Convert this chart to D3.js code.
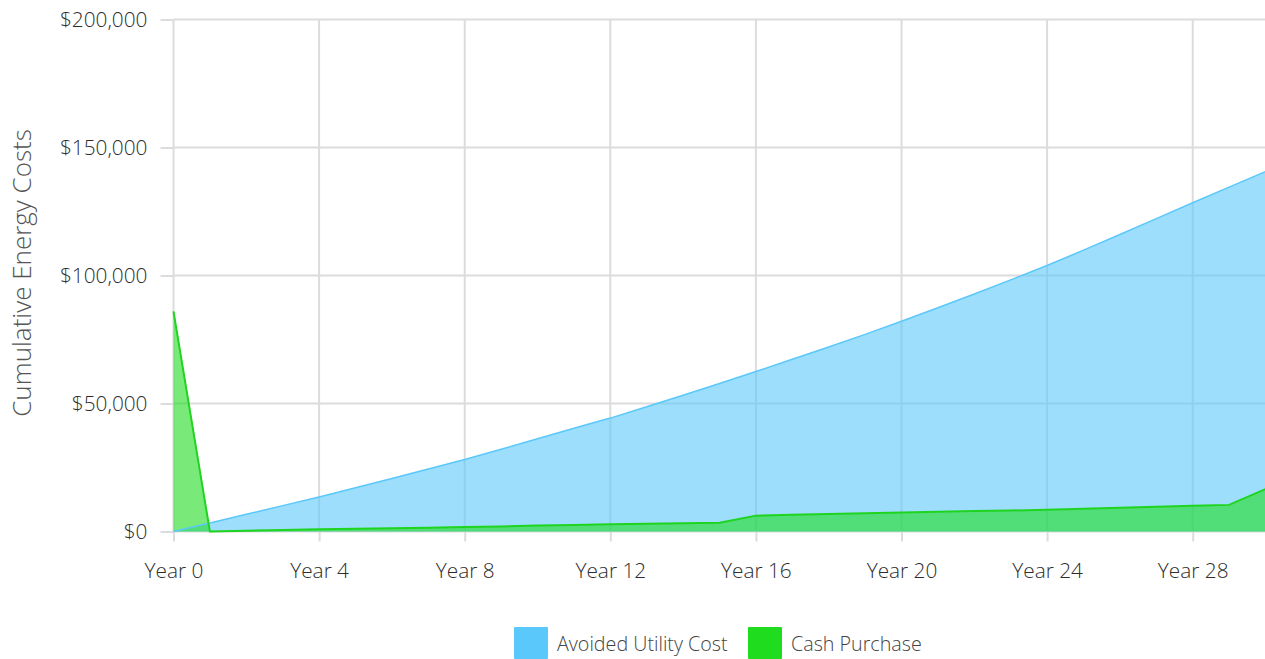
<!DOCTYPE html>
<html>
<head>
<meta charset="utf-8">
<script src="https://cdn.jsdelivr.net/npm/d3@7"></script>
<style>
    body { margin: 0; background: #fff; }
    svg { display: block; font-family: "Open Sans", sans-serif; font-weight: 300; }
    .axis path { display: none; }
    .axis line { stroke: #dcdcdc; stroke-width: 2; }
    .axis text { fill: #2d2d2d; font-size: 20.8px; font-family: "Open Sans", sans-serif; font-weight: 300; }
</style>
</head>
<body>
<div class="vis-area"></div>
<script>
// Data (values in dollars)
const years = d3.range(0, 31);
const avoidedUtility = [0, 3300, 6700, 10100, 13500, 17100, 20700, 24400, 28100, 32100,
    36200, 40300, 44300, 48700, 53200, 57800, 62500, 67300, 72100, 77000,
    82100, 87400, 92800, 98300, 103900, 109900, 116000, 122200, 128400, 134500, 140600];
const cashPurchase = [86000, 0, 300, 600, 900, 1100, 1300, 1500, 1800, 2000,
    2300, 2500, 2800, 3000, 3200, 3400, 6200, 6500, 6800, 7100,
    7400, 7700, 8000, 8200, 8500, 8900, 9300, 9700, 10100, 10400, 16600];
const xTicks = [0, 4, 8, 12, 16, 20, 24, 28];
const yTicks = [0, 50000, 100000, 150000, 200000];
const seriesNames = ["Avoided Utility Cost", "Cash Purchase"];
const seriesColors = ["#5ac8fa", "#1fdc1f"];

const W = 1265, H = 659;
const margin = { top: 19.5, right: 0, bottom: 127.5, left: 173.5 };
const width = W - margin.left - margin.right + 0.5;
const height = H - margin.top - margin.bottom;

const svg = d3.select('.vis-area').append('svg')
    .attr('width', W)
    .attr('height', H);
const g = svg.append('g')
    .attr('transform', 'translate(' + margin.left + ',' + margin.top + ')');

const x = d3.scaleLinear().domain([0, 30]).range([0, width]);
const y = d3.scaleLinear().domain([0, 200000]).range([height, 0]);

// Grid
g.selectAll('.hgrid').data(yTicks).enter().append('line')
    .attr('x1', 0).attr('x2', width)
    .attr('y1', d => y(d)).attr('y2', d => y(d))
    .attr('stroke', '#dcdcdc').attr('stroke-width', 2);
g.selectAll('.vgrid').data(xTicks).enter().append('line')
    .attr('x1', d => x(d)).attr('x2', d => x(d))
    .attr('y1', 0).attr('y2', height)
    .attr('stroke', '#dcdcdc').attr('stroke-width', 2);

// Axes
g.append('g').attr('class', 'axis')
    .attr('transform', 'translate(0,' + height + ')')
    .call(d3.axisBottom(x).tickValues(xTicks).tickSize(10).tickPadding(22)
        .tickFormat(d => 'Year ' + d));
g.append('g').attr('class', 'axis')
    .call(d3.axisLeft(y).tickValues(yTicks).tickSize(13).tickPadding(13)
        .tickFormat(d => '$' + d3.format(',')(d)));

// Areas
const area = vals => d3.area()
    .x((d, i) => x(years[i]))
    .y0(y(0))
    .y1(d => y(d))(vals);
const line = vals => d3.line()
    .x((d, i) => x(years[i]))
    .y(d => y(d))(vals);

g.append('path').attr('d', area(avoidedUtility))
    .attr('fill', seriesColors[0]).attr('fill-opacity', 0.6);
g.append('path').attr('d', area(cashPurchase))
    .attr('fill', seriesColors[1]).attr('fill-opacity', 0.6);
g.append('path').attr('d', line(avoidedUtility))
    .attr('fill', 'none').attr('stroke', seriesColors[0]).attr('stroke-width', 1.5);
g.append('path').attr('d', line(cashPurchase))
    .attr('fill', 'none').attr('stroke', '#1fd41f').attr('stroke-width', 2);

// Y axis title
svg.append('text')
    .attr('transform', 'translate(31,273) rotate(-90)')
    .attr('text-anchor', 'middle')
    .style('font-size', '26px')
    .style('fill', '#555')
    .text('Cumulative Energy Costs');

// Legend
const legendX = [514, 748];
const legend = svg.selectAll('.legend').data(seriesNames).enter().append('g')
    .attr('transform', (d, i) => 'translate(' + legendX[i] + ',627)');
legend.append('rect')
    .attr('width', 34).attr('height', 32).attr('rx', 1)
    .attr('fill', (d, i) => seriesColors[i]);
legend.append('text')
    .attr('x', 43).attr('y', 17).attr('dy', '0.35em')
    .style('font-size', '19.7px').style('fill', '#444')
    .text(d => d);
</script>
</body>
</html>
